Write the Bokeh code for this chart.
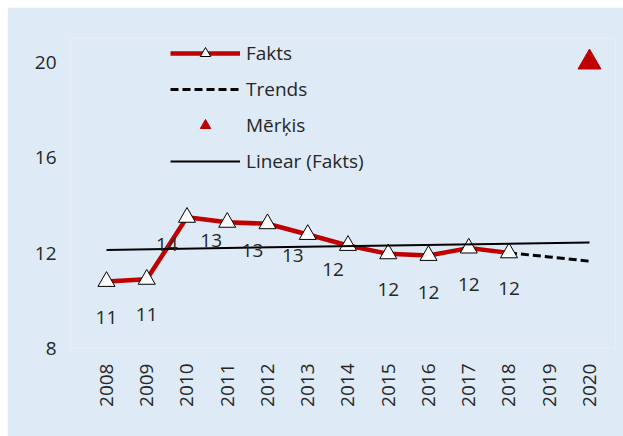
import numpy as np
from bokeh.plotting import figure
from bokeh.models import Range1d, FixedTicker, ColumnDataSource, Legend, LegendItem
from bokeh.embed import file_html
from bokeh.resources import INLINE
from bokeh.core.properties import value

# ---- data ----
years = [2008, 2009, 2010, 2011, 2012, 2013, 2014, 2015, 2016, 2017, 2018]
fakts = [10.81, 10.90, 13.50, 13.29, 13.23, 12.78, 12.32, 11.97, 11.90, 12.21, 12.01]
fakts_labels = ["11", "11", "14", "13", "13", "13", "12", "12", "12", "12", "12"]
trend_years = [2018, 2019, 2020]
trend_vals = [12.01, 11.84, 11.66]
target_years = [2020]
target_vals = [20]
axis_years = [2008, 2009, 2010, 2011, 2012, 2013, 2014, 2015, 2016, 2017, 2018, 2019, 2020]
y_ticks = [8, 12, 16, 20]

# ---- label placement (layout, screen px) ----
label_dx = [0, 0, -20, -16, -15, -15, -15, 0, 0, 0, 0]
label_dy = [36, 35, 27, 18, 27, 21, 24, 36, 37, 36, 36]

# linear trendline of Fakts (least squares), drawn across the whole axis
slope, intercept = np.polyfit(years, fakts, 1)
lin_x = [axis_years[0], axis_years[-1]]
lin_y = [slope * x + intercept for x in lin_x]

BG = "#DEEAF6"
RED = "#C00000"
TXT = "#262626"
FONT = "Open Sans"

p = figure(width=616, height=429, output_backend="svg", toolbar_location=None,
           x_range=Range1d(2007.106, 2020.646), y_range=Range1d(8, 21),
           min_border_left=63, min_border_right=8, min_border_top=31, min_border_bottom=88)
p.margin = (7, 0, 0, 7)
p.background_fill_color = BG
p.border_fill_color = BG
p.outline_line_color = None
p.xgrid.visible = False
p.ygrid.visible = False

src = ColumnDataSource(dict(x=years, y=fakts, lab=fakts_labels, dx=label_dx, dy=label_dy))

r_line = p.line("x", "y", source=src, line_color=RED, line_width=4.5)
r_trend = p.line(trend_years, trend_vals, line_color="black", line_width=3, line_dash="8 4")
r_mark = p.scatter("x", "y", source=src, marker="triangle", size=17,
                   fill_color="white", line_color="black", line_width=1)
r_lin = p.line(lin_x, lin_y, line_color="black", line_width=2)
r_target = p.scatter(target_years, target_vals, marker="triangle", size=23,
                     fill_color=RED, line_color=RED)
p.text("x", "y", text="lab", source=src, x_offset="dx", y_offset="dy",
       text_align="center", text_baseline="middle", text_font=value(FONT),
       text_font_size="19px", text_color=TXT)

# axes
p.xaxis.ticker = FixedTicker(ticks=axis_years)
p.xaxis.major_label_overrides = {y: str(y) for y in axis_years}
p.xaxis.major_label_orientation = np.pi / 2
p.yaxis.ticker = FixedTicker(ticks=y_ticks)
for ax in (p.xaxis, p.yaxis):
    ax.axis_line_color = None
    ax.major_tick_line_color = None
    ax.minor_tick_line_color = None
    ax.major_label_text_font = FONT
    ax.major_label_text_font_size = "19px"
    ax.major_label_text_color = TXT
p.xaxis.major_label_standoff = 9
p.yaxis.major_label_standoff = 8

legend = Legend(items=[
    LegendItem(label="Fakts", renderers=[r_line, r_mark]),
    LegendItem(label="Trends", renderers=[r_trend]),
    LegendItem(label="Mērķis", renderers=[r_target]),
    LegendItem(label="Linear (Fakts)", renderers=[r_lin]),
], location=(100, 174))
legend.background_fill_alpha = 0
legend.border_line_alpha = 0
legend.padding = 0
legend.margin = 0
legend.spacing = 10
legend.glyph_height = 26
legend.glyph_width = 70
legend.label_height = 26
legend.label_standoff = 6
legend.label_text_font = FONT
legend.label_text_font_size = "19px"
legend.label_text_color = TXT
p.add_layout(legend)

open("out.html", "w").write(file_html(p, INLINE))
